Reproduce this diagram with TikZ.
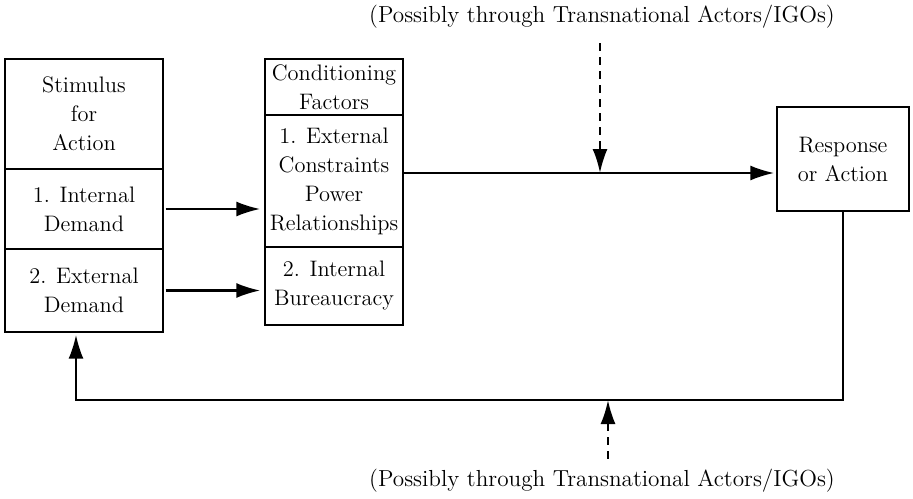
\documentclass[tikz,border=0pt]{standalone}
\usetikzlibrary{arrows.meta}
\begin{document}
\begin{tikzpicture}[x=0.5pt,y=-0.5pt,
    cell/.style={draw,line width=0.7pt,align=center,inner sep=0pt,
      font=\fontsize{11.2}{14.5}\selectfont},
    flow/.style={line width=1.1pt,-{Latex[length=12pt,width=7.5pt]}},
    maybe/.style={flow,dashed,dash pattern=on 4pt off 3pt},
    lbl/.style={font=\fontsize{11.6}{14}\selectfont,inner sep=1pt}]
    \useasboundingbox (0,0) rectangle (913,498);
    % stimulus column
    \node[cell,minimum width=79pt,minimum height=55pt] (stim) at (84,114) {Stimulus\\for\\Action};
    \node[cell,minimum width=79pt,minimum height=40pt] (idem) at (84,209) {1. Internal\\Demand};
    \node[cell,minimum width=79pt,minimum height=41.5pt] (edem) at (84,290.5) {2. External\\Demand};
    % conditioning column
    \node[cell,minimum width=69pt,minimum height=28pt] (cond) at (334,87) {Conditioning\\Factors};
    \node[cell,minimum width=69pt,minimum height=66pt] (ext) at (334,181) {1. External\\Constraints\\Power\\Relationships};
    \node[cell,minimum width=69pt,minimum height=39pt] (intl) at (334,286) {2. Internal\\Bureaucracy};
    % response
    \node[cell,minimum width=66pt,minimum height=52pt] (resp) at (843,159) {Response\\or Action};
    \node[lbl] (toplbl) at (602,17) {(Possibly through Transnational Actors/IGOs)};
    \node[lbl] (botlbl) at (602,481) {(Possibly through Transnational Actors/IGOs)};
    \coordinate (mid) at (600,173);
    \coordinate (fb) at (608,400);
    \foreach \a/\b in {idem/ext,edem/intl}
      \draw[flow,shorten <=1pt,shorten >=2pt] (\a.east) -- (\a.east -| \b.west);
    \draw[flow,shorten >=1pt] (mid -| ext.east) -- (mid -| resp.west);
    \draw[maybe] (toplbl.south) ++(-2,12) -- (mid);
    \draw[flow,shorten >=1pt] (resp.south) |- (fb) -| ([xshift=-4pt]edem.south);
    \draw[maybe] (botlbl.north) ++(6,-8) -- (fb);
\end{tikzpicture}
\end{document}
